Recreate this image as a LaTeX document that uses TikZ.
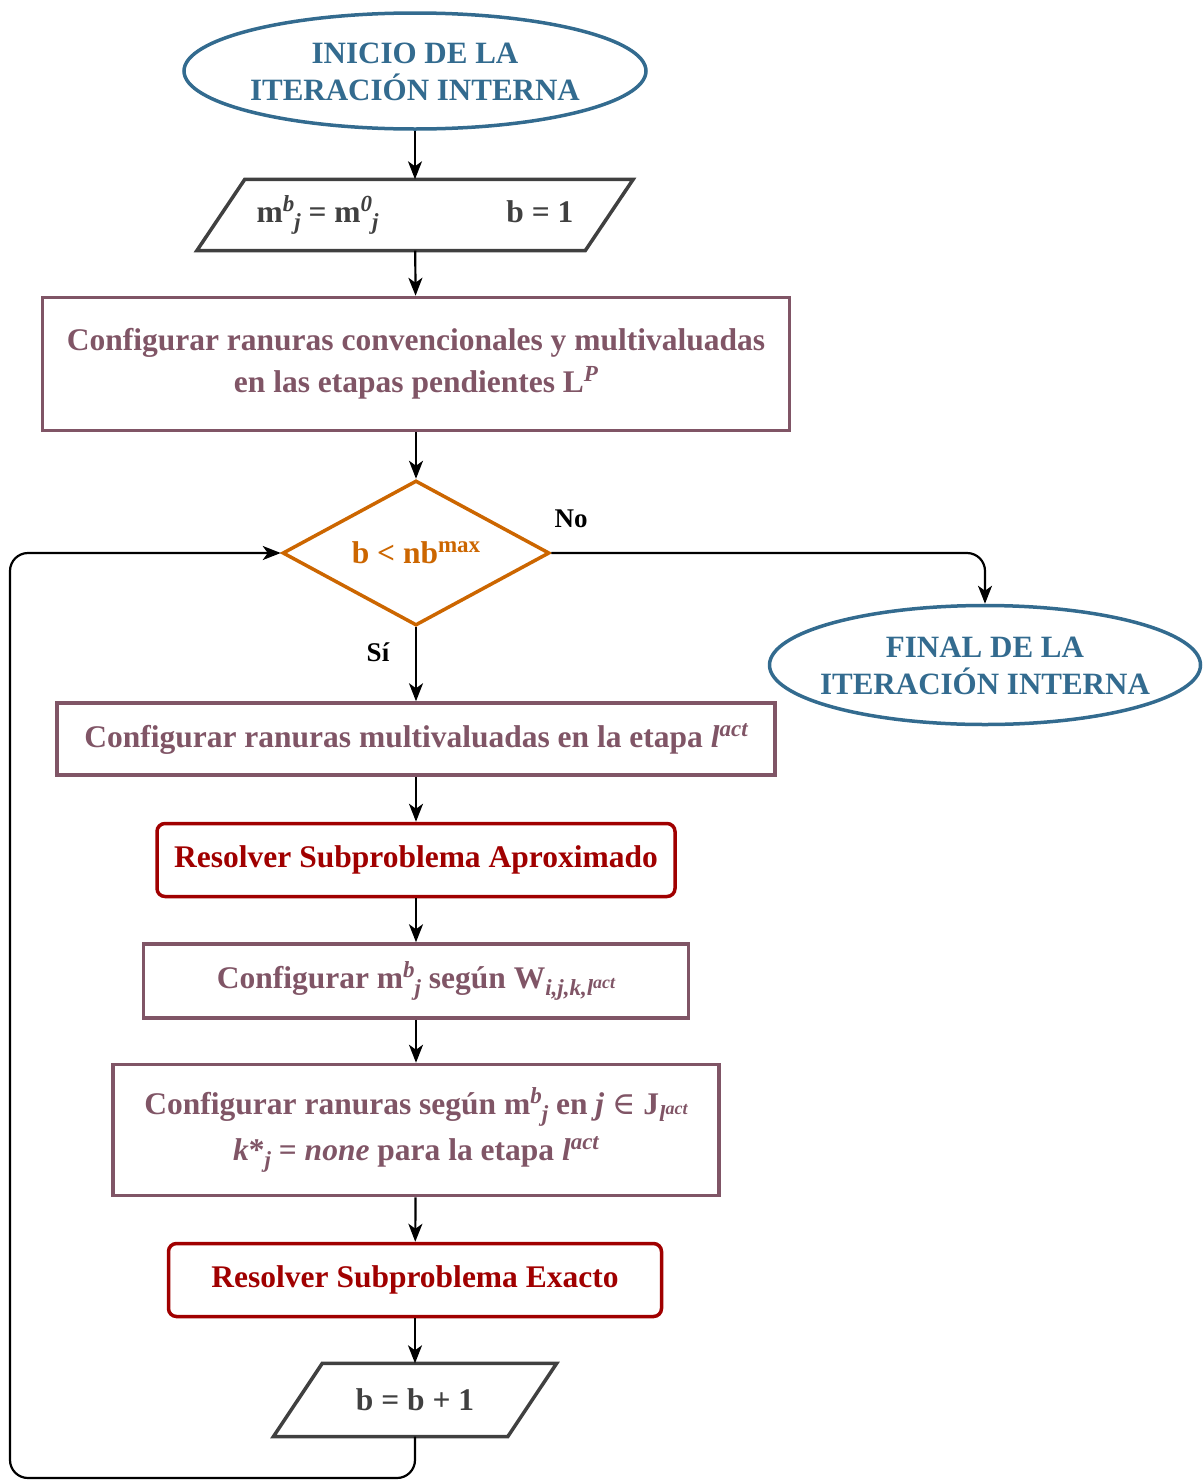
\documentclass[tikz,border=0pt]{standalone}
\usepackage{fontspec}
\setmainfont{Liberation Serif}
\newfontfamily\symfont{DejaVu Serif}
\usetikzlibrary{shapes.geometric,arrows.meta}

\definecolor{cblue}{RGB}{51,107,143}
\definecolor{cmauve}{RGB}{128,85,102}
\definecolor{cred}{RGB}{160,0,0}
\definecolor{corange}{RGB}{204,102,0}
\definecolor{cgray}{RGB}{64,64,64}

% raised / lowered italic scripts at fixed sizes
\newcommand{\sps}[1]{\raisebox{11pt}{\fontsize{23}{23}\selectfont\itshape #1}}
\newcommand{\sbs}[1]{\raisebox{-7pt}{\fontsize{23}{23}\selectfont\itshape #1}}
\newcommand{\ssps}[1]{\raisebox{7pt}{\fontsize{18}{18}\selectfont\itshape #1}}

\tikzset{
  every node/.style={font=\bfseries\fontsize{31.5}{42}\selectfont, inner sep=0pt, align=center},
  terminal/.style={ellipse, draw=cblue, line width=3.5pt},
  termtext/.style={text=cblue, font=\bfseries\fontsize{31}{37}\selectfont},
  procbox/.style={rectangle, draw=cmauve, line width=3.5pt, text=cmauve},
  solvebox/.style={rectangle, rounded corners=8pt, draw=cred, line width=3.5pt, text=cred},
  iobox/.style={rectangle, draw=none, text=cgray},
  iodraw/.style={draw=cgray, line width=3.5pt, line join=miter},
  decision/.style={diamond, draw=corange, line width=3.5pt, text=corange, aspect=1.84},
  arr/.style={draw=black, line width=2.2pt, -{Stealth[length=18pt,width=14pt,inset=5pt]}},
  lbl/.style={text=black, font=\bfseries\fontsize{27}{30}\selectfont},
}

\begin{document}
\begin{tikzpicture}[x=1pt, y=-1pt]
\useasboundingbox (0,0) rectangle (1203,1481);

% start and end terminals
\node[terminal, minimum width=462pt, minimum height=116pt] (ini) at (415,71) {};
\node[termtext] (initxt) at (415,72) {INICIO DE LA\\ITERACIÓN INTERNA};
\node[terminal, minimum width=431pt, minimum height=119pt] (fin) at (985,665) {};
\node[termtext] (fintxt) at (985,666) {FINAL DE LA\\ITERACIÓN INTERNA};

% initial values
\node[iobox, minimum width=388pt, minimum height=71pt] (p1) at (415,215)
  {m\sps{b}\sbs{j} = m\sps{0}\sbs{j}\hspace{128pt}b = 1};
\draw[iodraw] ([xshift=24pt]p1.north west) -- ([xshift=24pt]p1.north east)
  -- ([xshift=-24pt]p1.south east) -- ([xshift=-24pt]p1.south west) -- cycle;

\node[procbox, minimum width=747pt, minimum height=133pt] (b1) at (416,364)
  {Configurar ranuras convencionales y multivaluadas\\en las etapas pendientes L\sps{P}};

\node[decision, minimum width=267pt, minimum height=145pt] (dec) at (416,553)
  {b < nb\raisebox{11pt}{\fontsize{23}{23}\selectfont max}};

\node[procbox, minimum width=718pt, minimum height=72pt] (b2) at (416,739)
  {Configurar ranuras multivaluadas en la etapa \textit{l}\sps{act}};

\node[solvebox, minimum width=518pt, minimum height=73pt] (s1) at (416,860)
  {Resolver Subproblema Aproximado};

\node[procbox, minimum width=545pt, minimum height=74pt] (b3) at (416,981)
  {Configurar m\sps{b}\sbs{j} según W\sbs{i,j,k,l\ssps{act}}};

\node[procbox, minimum width=606pt, minimum height=131pt] (b4) at (416,1130)
  {Configurar ranuras según m\sps{b}\sbs{j} en \textit{j} {\symfont\mdseries ∈} J\sbs{l\ssps{act}}\\[4pt]
   \textit{k}*\sbs{j} = \textit{none} para la etapa \textit{l}\sps{act}};

\node[solvebox, minimum width=493pt, minimum height=73pt] (s2) at (415,1280)
  {Resolver Subproblema Exacto};

\node[iobox, minimum width=234pt, minimum height=73pt] (p2) at (415,1400)
  {b = b + 1};
\draw[iodraw] ([xshift=24.5pt]p2.north west) -- ([xshift=24.5pt]p2.north east)
  -- ([xshift=-24.5pt]p2.south east) -- ([xshift=-24.5pt]p2.south west) -- cycle;

% main flow
\draw[arr] (ini) -- (p1);
\draw[arr] (p1) -- (b1);
\draw[arr] (b1) -- (dec);
\draw[arr] (dec) -- (b2);
\draw[arr] (b2) -- (s1);
\draw[arr] (s1) -- (b3);
\draw[arr] (b3) -- (b4);
\draw[arr] (b4) -- (s2);
\draw[arr] (s2) -- (p2);

% exit branch
\draw[arr, rounded corners=18pt] (dec.east) -| (fin.north);
\node[lbl] (no) at (571,519) {No};
\node[lbl] (si) at (378,652) {Sí};

% loop back to the decision
\coordinate (loopcorner) at (10,1478);
\draw[arr, rounded corners=18pt] (p2.south) |- (loopcorner) |- (dec.west);
\end{tikzpicture}
\end{document}
